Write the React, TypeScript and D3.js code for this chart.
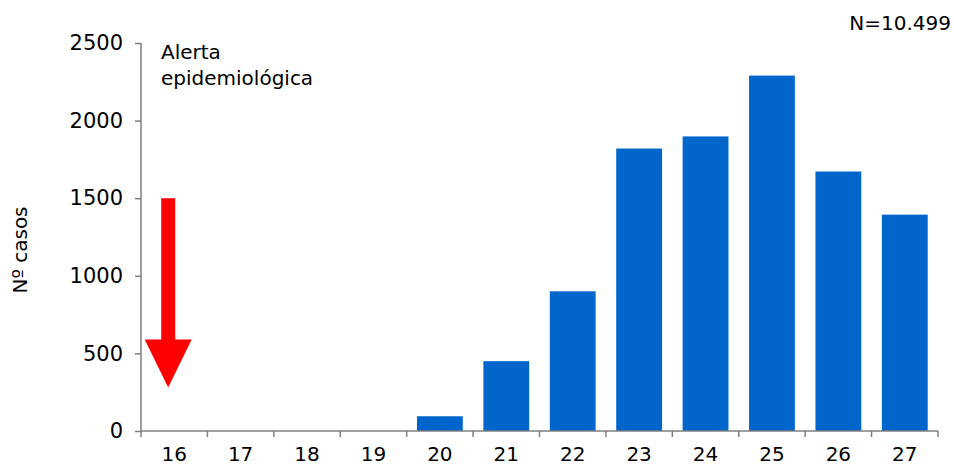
import { useEffect, useRef } from "react";
import * as d3 from "d3";

// Epidemiological weeks and cases per week
const weeks = ["16", "17", "18", "19", "20", "21", "22", "23", "24", "25", "26", "27"];
const cases = [0, 0, 0, 0, 95, 450, 900, 1820, 1898, 2290, 1672, 1394];
const yTicks = [0, 500, 1000, 1500, 2000, 2500];
const totalLabel = "N=10.499";
const alertLines = ["Alerta", "epidemiológica"];
// arrow annotation in data units: top of shaft, base of head, tip
const arrowWeek = "16";
const arrowTop = 1500;
const arrowHeadBase = 590;
const arrowTip = 280;

export default function App() {
  const svgRef = useRef<SVGSVGElement>(null);

  useEffect(() => {
    if (!svgRef.current) return;
    d3.select(svgRef.current).selectAll("*").remove();

    const width = 954;
    const height = 467;
    const margin = { top: 43, right: 16, bottom: 36, left: 141 };
    const innerW = width - margin.left - margin.right;
    const innerH = height - margin.top - margin.bottom;
    const font = "'DejaVu Sans', Verdana, sans-serif";
    const axisColor = "#7f7f7f";

    const svg = d3.select(svgRef.current).attr("width", width).attr("height", height);
    const g = svg.append("g").attr("transform", `translate(${margin.left},${margin.top})`);

    const x = d3.scaleBand().domain(weeks).range([0, innerW]).paddingInner(0.31).paddingOuter(0.155);
    const xEdges = d3.scaleLinear().domain([0, weeks.length]).range([0, innerW]);
    const y = d3.scaleLinear().domain([0, 2500]).range([innerH, 0]);

    // Bars
    g.selectAll("rect.bar")
      .data(weeks.map((w, i) => ({ w, v: cases[i] })).filter((d) => d.v > 0))
      .join("rect")
      .attr("class", "bar")
      .attr("x", (d) => x(d.w)!)
      .attr("y", (d) => y(d.v))
      .attr("width", x.bandwidth())
      .attr("height", (d) => innerH - y(d.v))
      .attr("fill", "#0066cc");

    // Y axis
    const yAxis = g
      .append("g")
      .call(d3.axisLeft(y).tickValues(yTicks).tickFormat(d3.format("d")).tickSize(6).tickPadding(12));
    yAxis.select(".domain").attr("stroke", axisColor).attr("stroke-width", 1.5).attr("d", `M0,0V${innerH}`);
    yAxis.selectAll(".tick line").attr("stroke", axisColor).attr("stroke-width", 1.5);
    yAxis.selectAll("text").attr("fill", "#000").style("font-family", font).style("font-size", "21px");

    // X axis: ticks at band edges, labels at band centers
    const xAxis = g.append("g").attr("transform", `translate(0,${innerH})`);
    xAxis
      .append("line")
      .attr("x1", 0)
      .attr("x2", innerW)
      .attr("stroke", axisColor)
      .attr("stroke-width", 1.5);
    xAxis
      .selectAll("line.tick")
      .data(d3.range(weeks.length + 1))
      .join("line")
      .attr("class", "tick")
      .attr("x1", (d) => xEdges(d))
      .attr("x2", (d) => xEdges(d))
      .attr("y1", 0)
      .attr("y2", 6)
      .attr("stroke", axisColor)
      .attr("stroke-width", 1.5);
    xAxis
      .selectAll("text")
      .data(weeks)
      .join("text")
      .attr("x", (d) => x(d)! + x.bandwidth() / 2)
      .attr("y", 30)
      .attr("text-anchor", "middle")
      .style("font-family", font)
      .style("font-size", "20px")
      .text((d) => d);

    // Y label
    svg
      .append("text")
      .attr("transform", `translate(27,${margin.top + innerH / 2 + 13}) rotate(-90)`)
      .attr("text-anchor", "middle")
      .style("font-family", font)
      .style("font-size", "20px")
      .text("Nº casos");

    // N label
    svg
      .append("text")
      .attr("x", width - 3)
      .attr("y", 30)
      .attr("text-anchor", "end")
      .style("font-family", font)
      .style("font-size", "20px")
      .text(totalLabel);

    // Alert annotation
    const alert = g.append("text").style("font-family", font).style("font-size", "20px");
    alertLines.forEach((line, i) => {
      alert
        .append("tspan")
        .attr("x", 20)
        .attr("y", 16 + i * 26)
        .text(line);
    });

    // Red arrow
    const cx = x(arrowWeek)! + x.bandwidth() / 2 - 6;
    const shaftW = 14;
    const headW = 47;
    const arrowPath = d3.path();
    arrowPath.moveTo(cx - shaftW / 2, y(arrowTop));
    arrowPath.lineTo(cx + shaftW / 2, y(arrowTop));
    arrowPath.lineTo(cx + shaftW / 2, y(arrowHeadBase));
    arrowPath.lineTo(cx + headW / 2, y(arrowHeadBase));
    arrowPath.lineTo(cx, y(arrowTip));
    arrowPath.lineTo(cx - headW / 2, y(arrowHeadBase));
    arrowPath.lineTo(cx - shaftW / 2, y(arrowHeadBase));
    arrowPath.closePath();
    g.append("path").attr("d", arrowPath.toString()).attr("fill", "#ff0000");
  }, []);

  return (
    <svg
      ref={svgRef}
      style={{ position: "absolute", left: 0, top: 0, display: "block", background: "#fff" }}
    ></svg>
  );
}
